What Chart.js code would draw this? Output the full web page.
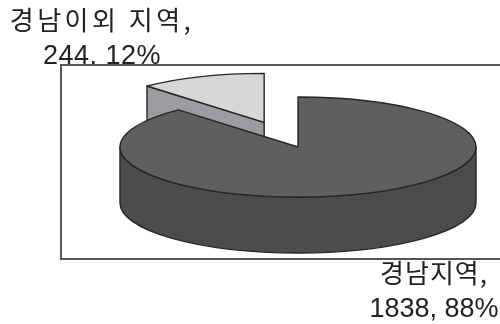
<!DOCTYPE html>
<html><head><meta charset="utf-8">
<style>html,body{margin:0;padding:0;background:#fff}#w{width:500px;height:324px;position:relative;overflow:hidden}canvas{display:block;filter:blur(0.35px)}</style>
<script src="https://cdn.jsdelivr.net/npm/chart.js@4"></script>
</head><body><div id="w"><canvas id="c" width="500" height="324"></canvas></div>
<script>
const categories = ['경남지역', '경남이외 지역'];
const values = [1838, 244];
const percents = [88, 12];
const topColors = ['#5f5f61', '#d6d7d9'];
const sideColors = ['#4b4c4e', '#9b9c9f'];

const tilt = 0.281, depth = 56, lineColor = '#262626';
const centre = {x: 298, y: 147};
const explode = [0, 94];
const sliceScale = [1, 0.98];
const frame = {x: 61, y: 65, w: 439, h: 194};

function ellipsePath(ctx, p, a0, a1) {
  ctx.ellipse(p.x, p.y, p.r, p.r * tilt, 0, a0, a1);
}
function setFont(ctx, font, spacing) {
  ctx.font = font;
  ctx.letterSpacing = spacing;
}
const pie3d = {
  id: 'pie3d',
  beforeDraw(chart) {
    const ctx = chart.ctx;
    ctx.save();
    ctx.fillStyle = '#fff';
    ctx.fillRect(0, 0, chart.width, chart.height);
    ctx.fillStyle = '#222';
    ctx.textBaseline = 'alphabetic';
    ctx.textAlign = 'center';
    setFont(ctx, '400 26px "Noto Sans CJK KR"', '3.5px');
    ctx.fillText(categories[1] + ',', 102, 30);
    setFont(ctx, '400 26px "Noto Sans CJK KR"', '1px');
    ctx.fillText(categories[0] + ',', 434, 283);
    setFont(ctx, '400 27px "Liberation Sans"', '0.5px');
    ctx.fillText(values[1] + ', ' + percents[1] + '%', 102, 64);
    setFont(ctx, '400 27px "Liberation Sans"', '0px');
    ctx.fillText(values[0] + ', ' + percents[0] + '%', 434, 317);
    ctx.fillStyle = '#fff';
    ctx.fillRect(frame.x, frame.y, frame.w, frame.h);
    ctx.strokeStyle = '#555';
    ctx.lineWidth = 2;
    ctx.strokeRect(frame.x, frame.y, frame.w + 4, frame.h);
    ctx.restore();
  },
  beforeDatasetsDraw(chart) {
    const ctx = chart.ctx;
    const arcs = chart.getDatasetMeta(0).data;
    const order = [1, 0];
    ctx.save();
    ctx.lineWidth = 1.4;
    ctx.strokeStyle = lineColor;
    ctx.lineJoin = 'round';
    order.forEach(i => {
      const a = arcs[i].getProps(['startAngle', 'endAngle', 'outerRadius']);
      const mid = (a.startAngle + a.endAngle) / 2;
      const p = {
        x: centre.x + Math.cos(mid) * explode[i],
        y: centre.y + Math.sin(mid) * explode[i] * tilt,
        r: a.outerRadius * sliceScale[i]
      };
      const px = ang => p.x + Math.cos(ang) * p.r;
      const py = ang => p.y + Math.sin(ang) * p.r * tilt;
      if (i === 1) {
        ctx.beginPath();
        ctx.moveTo(p.x, p.y);
        ctx.lineTo(px(a.startAngle), py(a.startAngle));
        ctx.lineTo(px(a.startAngle), py(a.startAngle) + depth);
        ctx.lineTo(p.x, p.y + depth);
        ctx.closePath();
        ctx.fillStyle = sideColors[i];
        ctx.fill();
        ctx.stroke();
      }
      if (i === 0) {
        ctx.beginPath();
        ctx.ellipse(p.x, p.y, p.r, p.r * tilt, 0, Math.PI, 0, true);
        ctx.ellipse(p.x, p.y + depth, p.r, p.r * tilt, 0, 0, Math.PI, false);
        ctx.closePath();
        ctx.fillStyle = sideColors[i];
        ctx.fill();
        ctx.stroke();
      }
      ctx.beginPath();
      ctx.moveTo(p.x, p.y);
      ellipsePath(ctx, p, a.startAngle, a.endAngle);
      ctx.closePath();
      ctx.fillStyle = topColors[i];
      ctx.fill();
      ctx.stroke();
    });
    ctx.restore();
    return false;
  }
};

new Chart(document.getElementById('c'), {
  type: 'pie',
  data: { labels: categories, datasets: [{ data: values, backgroundColor: 'rgba(0,0,0,0)', borderWidth: 0, radius: 178 }] },
  options: {
    responsive: false, animation: false, rotation: 0,
    plugins: { legend: { display: false }, tooltip: { enabled: false } }
  },
  plugins: [pie3d]
});
</script></body></html>
